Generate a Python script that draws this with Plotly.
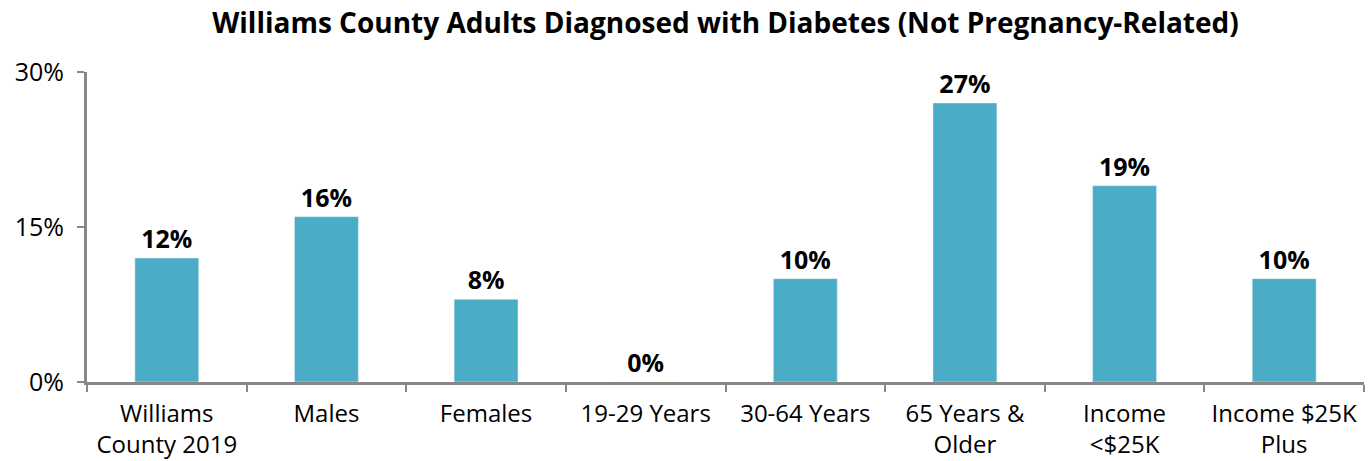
import plotly.graph_objects as go

categories = ["Williams<br>County 2019", "Males", "Females", "19-29 Years", "30-64 Years",
              "65 Years &<br>Older", "Income<br><$25K", "Income $25K<br>Plus"]
values = [12, 16, 8, 0, 10, 27, 19, 10]
y_ticks = [0, 15, 30]
y_tick_text = ["0%", "15%", "30%"]

fig = go.Figure(go.Bar(
    x=categories,
    y=values,
    marker_color="#4bacc6",
    text=[f"{v}%" for v in values],
    textposition="outside",
    textfont=dict(size=25, color="black", family="Open Sans", weight="bold"),
    cliponaxis=False,
))

fig.update_layout(
    width=1370, height=461,
    margin=dict(l=87, r=6, t=72, b=79),
    plot_bgcolor="white", paper_bgcolor="white",
    font=dict(family="Open Sans", size=24, color="black"),
    bargap=0.6,
    showlegend=False,
    title=dict(text="<b>Williams County Adults Diagnosed with Diabetes (Not Pregnancy-Related)</b>",
               x=0.5, xref="paper", y=0.949, yanchor="middle",
               font=dict(size=28, family="Open Sans", color="black")),
    xaxis=dict(showline=True, linecolor="#878787", linewidth=3,
               ticks="outside", tickson="boundaries", ticklen=7, tickwidth=2,
               tickcolor="#878787", showgrid=False, automargin=False,
               tickangle=0, tickfont=dict(size=24), ticklabelstandoff=8),
    yaxis=dict(range=[0, 30], tickmode="array", tickvals=y_ticks, ticktext=y_tick_text,
               showline=True, linecolor="#878787", linewidth=3,
               ticks="outside", ticklen=7, tickwidth=2, tickcolor="#878787",
               showgrid=False, zeroline=False, automargin=False,
               tickfont=dict(size=25), ticklabelstandoff=8),
)

fig.write_html("out.html", config={"displayModeBar": False},
               post_script="document.body.style.margin='0';")
